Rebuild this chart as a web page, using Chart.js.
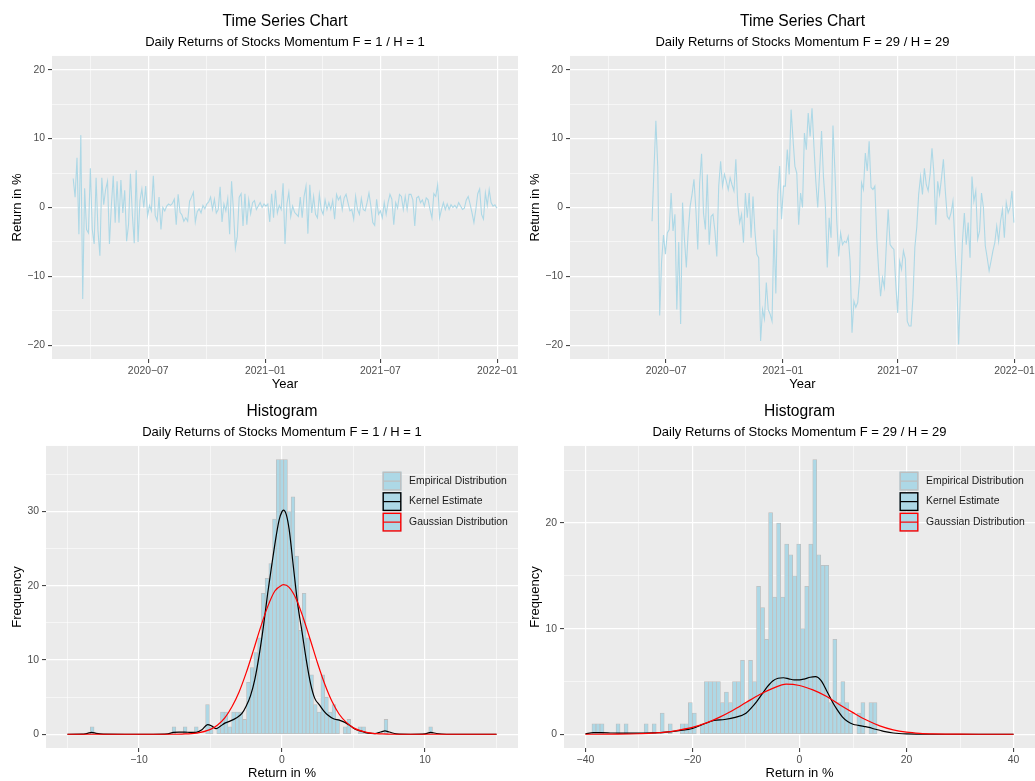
<!DOCTYPE html>
<html>
<head>
<meta charset="utf-8">
<script src="https://cdn.jsdelivr.net/npm/chart.js@4.4.1/dist/chart.umd.min.js"></script>
<style>
  body { margin: 0; background: #fff; width: 1035px; height: 781px; position: relative; overflow: hidden; }
  canvas { position: absolute; }
</style>
</head>
<body>
<canvas id="tsF1" width="518" height="392" style="left:0;top:0"></canvas>
<canvas id="tsF29" width="517" height="392" style="left:518px;top:0"></canvas>
<canvas id="histF1" width="518" height="391" style="left:0;top:390px"></canvas>
<canvas id="histF29" width="517" height="391" style="left:518px;top:390px"></canvas>
<script>
// ---- time series data (sampled every 3 days) ----
const tsDates = [
  '2020-03-05','2020-03-08','2020-03-11','2020-03-14','2020-03-17','2020-03-20','2020-03-23','2020-03-26','2020-03-29',
  '2020-04-01','2020-04-04','2020-04-07','2020-04-10','2020-04-13','2020-04-16','2020-04-19','2020-04-22','2020-04-25','2020-04-28',
  '2020-05-01','2020-05-04','2020-05-07','2020-05-10','2020-05-13','2020-05-16','2020-05-19','2020-05-22','2020-05-25','2020-05-28','2020-05-31',
  '2020-06-03','2020-06-06','2020-06-09','2020-06-12','2020-06-15','2020-06-18','2020-06-21','2020-06-24','2020-06-27','2020-06-30',
  '2020-07-03','2020-07-06','2020-07-09','2020-07-12','2020-07-15','2020-07-18','2020-07-21','2020-07-24','2020-07-27','2020-07-30',
  '2020-08-02','2020-08-05','2020-08-08','2020-08-11','2020-08-14','2020-08-17','2020-08-20','2020-08-23','2020-08-26','2020-08-29',
  '2020-09-01','2020-09-04','2020-09-07','2020-09-10','2020-09-13','2020-09-16','2020-09-19','2020-09-22','2020-09-25','2020-09-28',
  '2020-10-01','2020-10-04','2020-10-07','2020-10-10','2020-10-13','2020-10-16','2020-10-19','2020-10-22','2020-10-25','2020-10-28','2020-10-31',
  '2020-11-03','2020-11-06','2020-11-09','2020-11-12','2020-11-15','2020-11-18','2020-11-21','2020-11-24','2020-11-27','2020-11-30',
  '2020-12-03','2020-12-06','2020-12-09','2020-12-12','2020-12-15','2020-12-18','2020-12-21','2020-12-24','2020-12-27','2020-12-30',
  '2021-01-02','2021-01-05','2021-01-08','2021-01-11','2021-01-14','2021-01-17','2021-01-20','2021-01-23','2021-01-26','2021-01-29',
  '2021-02-01','2021-02-04','2021-02-07','2021-02-10','2021-02-13','2021-02-16','2021-02-19','2021-02-22','2021-02-25','2021-02-28',
  '2021-03-03','2021-03-06','2021-03-09','2021-03-12','2021-03-15','2021-03-18','2021-03-21','2021-03-24','2021-03-27','2021-03-30',
  '2021-04-02','2021-04-05','2021-04-08','2021-04-11','2021-04-14','2021-04-17','2021-04-20','2021-04-23','2021-04-26','2021-04-29',
  '2021-05-02','2021-05-05','2021-05-08','2021-05-11','2021-05-14','2021-05-17','2021-05-20','2021-05-23','2021-05-26','2021-05-29',
  '2021-06-01','2021-06-04','2021-06-07','2021-06-10','2021-06-13','2021-06-16','2021-06-19','2021-06-22','2021-06-25','2021-06-28',
  '2021-07-01','2021-07-04','2021-07-07','2021-07-10','2021-07-13','2021-07-16','2021-07-19','2021-07-22','2021-07-25','2021-07-28','2021-07-31',
  '2021-08-03','2021-08-06','2021-08-09','2021-08-12','2021-08-15','2021-08-18','2021-08-21','2021-08-24','2021-08-27','2021-08-30',
  '2021-09-02','2021-09-05','2021-09-08','2021-09-11','2021-09-14','2021-09-17','2021-09-20','2021-09-23','2021-09-26','2021-09-29',
  '2021-10-02','2021-10-05','2021-10-08','2021-10-11','2021-10-14','2021-10-17','2021-10-20','2021-10-23','2021-10-26','2021-10-29',
  '2021-11-01','2021-11-04','2021-11-07','2021-11-10','2021-11-13','2021-11-16','2021-11-19','2021-11-22','2021-11-25','2021-11-28',
  '2021-12-01','2021-12-04','2021-12-07','2021-12-10','2021-12-13','2021-12-16','2021-12-19','2021-12-22','2021-12-25','2021-12-28','2021-12-31'
];

const momentum1Returns = [
  4.2, 1.5, 7.2, -3.9, 10.5, -13.3, 2.8, -3.2, -3.7, 5.7,
  -3.2, -5.3, 4.3, -3.4, -7.0, 4.3, 0.4, 2.6, 3.8, -5.3,
  0.2, 4.6, -2.2, 3.8, -2.2, 4.0, -0.8, 2.5, -4.9, -2.5,
  4.9, -1.0, -5.2, 5.4, -5.0, 1.0, 2.7, 0.0, 3.1, -1.2,
  0.3, -0.5, 4.6, -1.2, -1.9, 1.5, -3.2, 0.0, -0.5, 0.2,
  0.5, 0.3, 0.6, 1.2, -2.5, 1.9, -0.7, -1.1, -2.0, -1.5,
  -2.0, 0.9, 1.5, 2.2, -2.1, -0.6, -0.2, -0.8, 0.3, -0.2,
  0.5, 0.8, 1.5, -0.3, 1.2, -0.8, -0.3, 3.0, -2.1, 0.5,
  -0.5, 1.3, -3.9, 3.8, -0.5, -5.9, -4.2, 1.5, 2.0, -2.7,
  2.0, -2.5, 1.1, -0.9, 0.7, 1.0, -0.3, 0.2, 0.7, 0.0,
  0.5, 0.2, 0.5, -2.1, 2.0, -1.5, 2.5, -0.8, 0.3, -0.3,
  3.5, -5.3, 0.5, 2.2, -1.3, 0.2, -0.7, -1.0, -1.3, 1.5,
  -1.5, 1.6, 3.1, -3.8, 3.3, -0.8, 1.6, -1.0, -1.5, 1.9,
  -0.3, -1.0, 1.1, -0.3, 0.7, -0.3, 1.0, -1.7, 1.9, 1.1,
  1.6, -0.3, 1.4, 1.9, 0.7, -0.5, -0.3, -1.7, 1.6, -0.3,
  -1.0, 1.3, -0.3, -0.5, 0.7, 2.1, 0.2, -2.2, -2.6, 1.2,
  -1.0, -0.5, -1.5, 0.7, -1.0, 0.7, 1.9, 1.2, -2.5, 0.7,
  -0.1, 1.9, 1.6, -0.3, 1.6, -0.3, 1.9, 1.9, 1.1, -2.7,
  1.4, 1.6, 0.7, 1.1, 0.2, 1.4, 1.1, -0.3, -1.5, 2.0,
  1.6, 3.3, -1.5, -0.3, 0.7, -0.3, 0.5, -0.3, 0.4, 0.0,
  0.3, -0.1, 0.7, 0.2, -0.3, -0.1, 1.1, 1.6, 0.5, -0.8,
  -2.2, -0.3, 2.0, 2.7, -1.0, -1.7, 2.1, 0.3, 2.6, 0.7,
  0.2, 0.4, -0.1
];

const momentum29Returns = [
  null, null, null, null, null, null, null, null, null, null,
  null, null, null, null, null, null, null, null, null, null,
  null, null, null, null, null, null, null, null, null, null,
  null, null, -2.0, 5.5, 12.6, 5.8, -15.7, -7.8, -4.0, -6.8,
  -3.7, -3.2, 2.1, -3.4, -1.0, -14.8, -5.0, -16.9, 0.7, -4.6,
  -8.7, -3.4, 0.2, 1.9, 4.1, -0.3, -6.1, 3.6, 7.8, -0.8,
  -3.2, 4.8, -5.4, -1.3, -1.0, -3.4, -7.1, 3.1, 6.7, 3.1,
  4.8, 3.8, 2.6, 4.3, 3.3, 2.4, 7.0, 0.4, -2.2, -1.0,
  -5.1, 2.1, -1.5, 2.1, -4.4, 1.6, -3.4, -6.8, -7.3, -19.4,
  -14.8, -16.2, -10.9, -14.8, -15.5, -16.5, -3.2, -12.5, 1.9, 6.0,
  -1.7, 3.1, 3.1, 8.4, 4.8, 14.2, 10.0, 6.0, 5.0, -2.5,
  2.1, 0.0, 10.8, 8.4, 13.7, 10.3, 14.4, 8.9, 3.8, 0.0,
  5.3, 11.1, 4.5, 0.4, -8.7, -1.5, -4.4, 11.9, 5.5, -2.0,
  -7.1, -3.7, -5.4, -4.9, -5.1, -4.2, -7.8, -18.2, -13.6, -14.5,
  -13.8, -10.4, 3.6, 2.6, 7.9, 5.3, 9.6, 2.9, 2.6, 3.1,
  -4.4, -9.2, -12.9, -10.2, -11.6, -5.6, -0.3, -5.4, -5.8, -6.1,
  -11.2, -15.3, -7.8, -9.0, -6.3, -7.5, -16.5, -17.2, -17.2, -13.1,
  -5.8, -2.9, 1.9, 4.5, 1.9, 5.7, 3.3, 2.4, 4.8, 8.6,
  5.0, -2.5, 3.8, 1.9, 4.3, 7.0, 2.4, -1.3, -1.7, -0.8,
  0.9, -4.9, -10.7, -19.9, -12.0, -4.9, -0.8, -5.4, -2.2, -7.3,
  4.5, 0.9, 2.4, -4.6, -3.4, 2.1, 0.0, -5.6, -7.3, -9.2,
  -7.8, -6.3, -5.1, -2.7, -4.9, -2.0, -0.3, -4.4, 0.7, -0.8,
  0.0, 2.4, -2.2
];

const tsMajorDates = ['2020-07-01', '2021-01-01', '2021-07-01', '2022-01-01'];
const tsMajorLabels = ['2020\u221207', '2021\u221201', '2021\u221207', '2022\u221201'];
const tsMinorDates = ['2020-04-01', '2020-10-01', '2021-04-01', '2021-10-01'];
const tsYMajor = [-20, -10, 0, 10, 20];
const tsYLabels = ['\u221220', '\u221210', '0', '10', '20'];
const tsYMinor = [-15, -5, 5, 15];

// ---- histogram F = 1 / H = 1 ----
const hist1BinCenters = [
  -13.27, -13.01, -12.75, -12.49, -12.23, -11.97, -11.71, -11.45, -11.19, -10.93,
  -10.67, -10.41, -10.15, -9.89, -9.63, -9.37, -9.11, -8.85, -8.59, -8.33,
  -8.07, -7.81, -7.55, -7.29, -7.03, -6.77, -6.51, -6.25, -5.99, -5.73,
  -5.47, -5.21, -4.95, -4.69, -4.43, -4.17, -3.91, -3.65, -3.39, -3.13,
  -2.87, -2.61, -2.35, -2.09, -1.83, -1.57, -1.31, -1.05, -0.79, -0.53,
  -0.27, -0.01, 0.25, 0.51, 0.77, 1.03, 1.29, 1.55, 1.81, 2.07,
  2.33, 2.59, 2.85, 3.11, 3.37, 3.63, 3.89, 4.15, 4.41, 4.67,
  4.93, 5.19, 5.45, 5.71, 5.97, 6.23, 6.49, 6.75, 7.01, 7.27,
  7.53, 7.79, 8.05, 8.31, 8.57, 8.83, 9.09, 9.35, 9.61, 9.87,
  10.13, 10.39
];
const hist1Counts = [
  1, 0, 0, 0, 0, 0, 0, 0, 0, 0,
  0, 0, 0, 0, 0, 0, 0, 0, 0, 0,
  0, 0, 1, 0, 0, 1, 0, 0, 1, 0,
  0, 4, 1, 0, 1, 3, 3, 1, 3, 3,
  3, 2, 7, 9, 11, 13, 19, 21, 23, 29,
  37, 37, 37, 30, 32, 24, 14, 19, 13, 8,
  4, 3, 8, 5, 3, 4, 2, 0, 1, 2,
  0, 0, 1, 1, 0, 0, 0, 0, 0, 2,
  0, 0, 0, 0, 0, 0, 0, 0, 0, 0,
  0, 1
];
const kde1X = [-15, -14, -13.6, -13.3, -13, -12.5, -11, -9, -8, -7.6, -7.2, -6.8, -6.4, -6, -5.6, -5.2, -4.9, -4.6, -4.3, -4,
  -3.6, -3.2, -2.8, -2.5, -2.2, -1.9, -1.6, -1.3, -1, -0.7, -0.4, -0.2, 0, 0.1, 0.3, 0.5, 0.8, 1.1, 1.4, 1.7,
  2, 2.3, 2.6, 2.9, 3.2, 3.6, 4, 4.4, 4.8, 5.2, 5.6, 6, 6.5, 6.9, 7.2, 7.5, 8, 9, 10, 10.4, 10.8, 11.5, 13, 15];
const kde1Y = [0, 0.01, 0.12, 0.25, 0.12, 0.01, 0, 0, 0.05, 0.25, 0.3, 0.3, 0.25, 0.25, 0.6, 1.3, 1.1, 0.75, 1.1, 1.5,
  1.8, 2.2, 2.8, 3.8, 5.2, 7.4, 10.6, 14.5, 19, 23, 26.8, 28.9, 30, 30.2, 29.6, 27.6, 22.5, 17.5, 13.8, 10,
  6.8, 4.8, 4, 3.2, 2.6, 2.1, 1.9, 1.6, 1.1, 0.6, 0.4, 0.15, 0.1, 0.3, 0.45, 0.3, 0.05, 0, 0.05, 0.25, 0.1, 0, 0, 0];
const gauss1X = [-15, -10, -8, -7, -6, -5, -4.5, -4, -3.5, -3, -2.5, -2, -1.5, -1, -0.5, 0, 0.1, 0.5, 1, 1.5,
  2, 2.5, 3, 3.5, 4, 4.5, 5, 6, 7, 8, 10, 15];
const gauss1Y = [0, 0, 0.005, 0.03, 0.15, 0.66, 1.25, 2.2, 3.7, 5.7, 8.3, 11.3, 14.4, 17.2, 19.3, 20.1, 20.15, 19.8, 18.2, 15.6,
  12.6, 9.5, 6.7, 4.4, 2.7, 1.6, 0.86, 0.21, 0.04, 0.005, 0, 0];

// ---- histogram F = 29 / H = 29 ----
const hist29BinCenters = [
  -38.4, -37.65, -36.9, -36.15, -35.4, -34.65, -33.9, -33.15, -32.4, -31.65,
  -30.9, -30.15, -29.4, -28.65, -27.9, -27.15, -26.4, -25.65, -24.9, -24.15,
  -23.4, -22.65, -21.9, -21.15, -20.4, -19.65, -18.9, -18.15, -17.4, -16.65,
  -15.9, -15.15, -14.4, -13.65, -12.9, -12.15, -11.4, -10.65, -9.9, -9.15,
  -8.4, -7.65, -6.9, -6.15, -5.4, -4.65, -3.9, -3.15, -2.4, -1.65,
  -0.9, -0.15, 0.6, 1.35, 2.1, 2.85, 3.6, 4.35, 5.1, 5.85,
  6.6, 7.35, 8.1, 8.85, 9.6, 10.35, 11.1, 11.85, 12.6, 13.35,
  14.1
];
const hist29Counts = [
  1, 1, 1, 0, 0, 0, 1, 0, 1, 0,
  0, 0, 0, 1, 0, 1, 0, 2, 0, 1,
  0, 0, 1, 1, 3, 2, 0, 1, 5, 5,
  5, 5, 3, 4, 3, 5, 5, 7, 3, 7,
  5, 14, 12, 9, 21, 13, 20, 13, 18, 17,
  15, 18, 10, 14, 18, 26, 17, 16, 16, 3,
  9, 3, 5, 3, 2, 0, 2, 3, 0, 3,
  3
];
const kde29X = [-40, -38.5, -37, -35, -32.5, -30, -27.5, -25, -22.5, -20, -18, -16, -14, -12, -10, -9, -8, -7, -6, -5,
  -4, -3, -2, -1, 0, 1, 2, 3, 4, 5, 6, 7, 8, 9, 10, 11, 12, 13, 14, 15, 16, 17.5, 20, 22.5, 25, 30, 40];
const kde29Y = [0.05, 0.15, 0.16, 0.12, 0.1, 0.1, 0.13, 0.2, 0.35, 0.55, 0.95, 1.3, 1.4, 1.6, 2, 2.5, 3.1, 3.8, 4.5, 5.05,
  5.3, 5.35, 5.25, 5.15, 5.15, 5.25, 5.4, 5.45, 5.1, 4.2, 3.2, 2.35, 1.65, 1.2, 0.95, 0.85, 0.75, 0.65, 0.5, 0.38,
  0.25, 0.12, 0.03, 0.01, 0, 0, 0];
const gauss29X = [-40, -35, -30, -25, -22.5, -20, -17.5, -15, -12.5, -10, -7.5, -5, -2.5, 0, 2.5, 5, 7.5, 10, 12.5, 15,
  17.5, 20, 22.5, 25, 30, 35, 40];
const gauss29Y = [0, 0.01, 0.05, 0.2, 0.4, 0.65, 1.05, 1.6, 2.25, 3, 3.75, 4.35, 4.75, 4.62, 4.2, 3.6, 2.8, 2.05, 1.35, 0.8,
  0.42, 0.2, 0.09, 0.04, 0.005, 0, 0];

const legendLabels = ['Empirical Distribution', 'Kernel Estimate', 'Gaussian Distribution'];

// ---- styling ----
const FONT = "'Liberation Sans', Arial, Helvetica, sans-serif";
const PANEL_BG = '#EBEBEB';
const BAR_FILL = '#ADD8E6';
const BAR_LINE = '#BEBEBE';
const LINE_BLUE = '#ADD8E6';
const legendColors = [BAR_LINE, '#000000', '#FF0000'];

Chart.defaults.font.family = FONT;
Chart.defaults.animation = false;

const toDay = s => Date.parse(s) / 864e5;

const panelBackground = {
  id: 'panelBackground',
  beforeDraw(chart) {
    const { ctx, chartArea: a } = chart;
    ctx.save();
    ctx.fillStyle = PANEL_BG;
    ctx.fillRect(a.left, a.top, a.right - a.left, a.bottom - a.top);
    ctx.restore();
  }
};

// legend keys drawn inside the panel, top right
const histLegend = {
  id: 'histLegend',
  afterDatasetsDraw(chart) {
    const { ctx, chartArea } = chart;
    const x0 = chartArea.right - 135.5;
    const y0 = chartArea.top + 25.7;
    legendLabels.forEach((label, i) => {
      const y = y0 + i * 20.5;
      ctx.save();
      ctx.fillStyle = BAR_FILL;
      ctx.fillRect(x0, y, 19, 19);
      ctx.strokeStyle = legendColors[i];
      ctx.lineWidth = 1.4;
      ctx.strokeRect(x0 + 0.7, y + 0.7, 17.6, 17.6);
      ctx.lineWidth = 1.2;
      ctx.beginPath();
      ctx.moveTo(x0 + 0.7, y + 9.5);
      ctx.lineTo(x0 + 18.3, y + 9.5);
      ctx.stroke();
      ctx.fillStyle = '#1A1A1A';
      ctx.font = '10.4px ' + FONT;
      ctx.textBaseline = 'middle';
      ctx.fillText(label, x0 + 26.6, y + 9.5);
      ctx.restore();
    });
  }
};

// ggplot-like axis: major + minor white grid, ticks only on majors
function ggAxis(o) {
  const majorSet = new Set(o.majors);
  const isMajor = c => c.tick && majorSet.has(c.tick.value);
  return {
    type: 'linear',
    min: o.min,
    max: o.max,
    offset: false,
    afterBuildTicks: scale => {
      scale.ticks = o.majors.concat(o.minors).sort((a, b) => a - b).map(v => ({ value: v }));
    },
    afterFit: scale => {
      if (o.horizontal) scale.height = o.size; else scale.width = o.size;
      scale.paddingLeft = 0; scale.paddingRight = 0;
      scale.paddingTop = 0; scale.paddingBottom = 0;
    },
    grid: {
      offset: false,
      color: '#FFFFFF',
      lineWidth: c => isMajor(c) ? 1.2 : 0.55,
      tickLength: 4,
      tickWidth: 1,
      tickColor: c => isMajor(c) ? '#333333' : 'rgba(0,0,0,0)'
    },
    border: { display: false },
    ticks: {
      autoSkip: false,
      maxRotation: 0,
      minRotation: 0,
      padding: o.tickPadding,
      color: '#4D4D4D',
      font: { size: 10.4, lineHeight: 1.2 },
      callback: v => majorSet.has(v) ? o.labels[o.majors.indexOf(v)] : ''
    },
    title: {
      display: true,
      text: o.title,
      color: '#000000',
      font: { size: 13, lineHeight: 1 },
      padding: o.titlePadding
    }
  };
}

function headings(main, sub) {
  return {
    title: { display: true, text: main, color: '#000000', fullSize: false,
      font: { size: 15.6, weight: 'normal', lineHeight: 1.2 }, padding: { top: 12, bottom: 0 } },
    subtitle: { display: true, text: sub, color: '#000000', fullSize: false,
      font: { size: 13, weight: 'normal', lineHeight: 1.2 }, padding: { top: 4.2, bottom: 5.4 } }
  };
}

// ---- time series charts ----
const tsStart = toDay(tsDates[0]);
const tsEnd = toDay(tsDates[tsDates.length - 1]);
const tsPad = (tsEnd - tsStart) * 0.05;

function timeSeriesChart(id, values, subtitle) {
  return new Chart(document.getElementById(id), {
    type: 'line',
    data: {
      datasets: [{
        data: tsDates.map((d, i) => ({ x: toDay(d), y: values[i] })),
        borderColor: LINE_BLUE,
        borderWidth: 1.1,
        pointRadius: 0,
        tension: 0,
        spanGaps: false
      }]
    },
    options: {
      responsive: false,
      events: [],
      layout: { padding: 0 },
      plugins: {
        legend: { display: false },
        tooltip: { enabled: false },
        ...headings('Time Series Chart', subtitle)
      },
      scales: {
        x: ggAxis({
          horizontal: true, size: 33, min: tsStart - tsPad, max: tsEnd + tsPad,
          majors: tsMajorDates.map(toDay), minors: tsMinorDates.map(toDay), labels: tsMajorLabels,
          tickPadding: 1.5, title: 'Year', titlePadding: { top: 0, bottom: 1 }
        }),
        y: ggAxis({
          horizontal: false, size: 52, min: -22, max: 22,
          majors: tsYMajor, minors: tsYMinor, labels: tsYLabels,
          tickPadding: 3, title: 'Return in %', titlePadding: { top: 10.5, bottom: 0 }
        })
      }
    },
    plugins: [panelBackground]
  });
}

timeSeriesChart('tsF1', momentum1Returns, 'Daily Returns of Stocks Momentum F = 1 / H = 1');
timeSeriesChart('tsF29', momentum29Returns, 'Daily Returns of Stocks Momentum F = 29 / H = 29');

// ---- histograms ----
function histogramChart(id, cfg) {
  return new Chart(document.getElementById(id), {
    type: 'bar',
    data: {
      datasets: [
        {
          type: 'bar',
          data: cfg.centers.map((c, i) => ({ x: c, y: cfg.counts[i] })),
          backgroundColor: BAR_FILL,
          borderColor: BAR_LINE,
          borderWidth: 0.8,
          borderSkipped: false,
          barPercentage: 1,
          categoryPercentage: 1,
          order: 3
        },
        {
          type: 'line',
          data: cfg.kdeX.map((x, i) => ({ x, y: cfg.kdeY[i] })),
          borderColor: '#000000',
          borderWidth: 1.2,
          pointRadius: 0,
          cubicInterpolationMode: 'monotone',
          order: 2
        },
        {
          type: 'line',
          data: cfg.gaussX.map((x, i) => ({ x, y: cfg.gaussY[i] })),
          borderColor: '#FF0000',
          borderWidth: 1.2,
          pointRadius: 0,
          cubicInterpolationMode: 'monotone',
          order: 1
        }
      ]
    },
    options: {
      responsive: false,
      events: [],
      layout: { padding: 0 },
      plugins: {
        legend: { display: false },
        tooltip: { enabled: false },
        ...headings('Histogram', cfg.subtitle)
      },
      scales: {
        x: ggAxis({
          horizontal: true, size: 33, min: cfg.xMin, max: cfg.xMax,
          majors: cfg.xMajor, minors: cfg.xMinor, labels: cfg.xLabels,
          tickPadding: 2, title: 'Return in %', titlePadding: { top: 0, bottom: 1 }
        }),
        y: ggAxis({
          horizontal: false, size: 46, min: cfg.yMin, max: cfg.yMax,
          majors: cfg.yMajor, minors: cfg.yMinor, labels: cfg.yLabels,
          tickPadding: 3, title: 'Frequency', titlePadding: { top: 10.5, bottom: 0 }
        })
      }
    },
    plugins: [panelBackground, histLegend]
  });
}

histogramChart('histF1', {
  subtitle: 'Daily Returns of Stocks Momentum F = 1 / H = 1',
  centers: hist1BinCenters, counts: hist1Counts,
  kdeX: kde1X, kdeY: kde1Y, gaussX: gauss1X, gaussY: gauss1Y,
  xMin: -16.5, xMax: 16.5, xMajor: [-10, 0, 10], xMinor: [-15, -5, 5, 15], xLabels: ['\u221210', '0', '10'],
  yMin: -1.85, yMax: 38.85, yMajor: [0, 10, 20, 30], yMinor: [5, 15, 25, 35], yLabels: ['0', '10', '20', '30']
});

histogramChart('histF29', {
  subtitle: 'Daily Returns of Stocks Momentum F = 29 / H = 29',
  centers: hist29BinCenters, counts: hist29Counts,
  kdeX: kde29X, kdeY: kde29Y, gaussX: gauss29X, gaussY: gauss29Y,
  xMin: -44, xMax: 44, xMajor: [-40, -20, 0, 20, 40], xMinor: [-30, -10, 10, 30],
  xLabels: ['\u221240', '\u221220', '0', '20', '40'],
  yMin: -1.3, yMax: 27.3, yMajor: [0, 10, 20], yMinor: [5, 15, 25], yLabels: ['0', '10', '20']
});
</script>
</body>
</html>
